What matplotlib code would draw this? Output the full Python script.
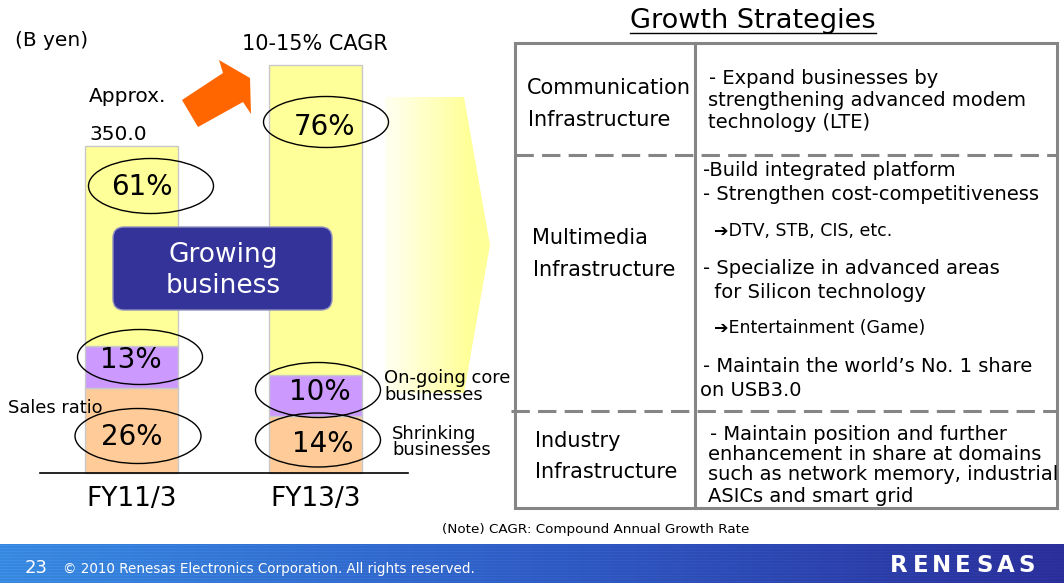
import numpy as np
import matplotlib
matplotlib.use('Agg')
import matplotlib.pyplot as plt
from matplotlib.patches import Ellipse, Polygon, Rectangle, FancyBboxPatch
from matplotlib.colors import LinearSegmentedColormap
from matplotlib import font_manager

plt.rcParams['font.family'] = ['DejaVu Sans']

# sales (B yen) and sales ratio (%) per segment
years = ['FY11/3', 'FY13/3']
totals = [350.0, 437.0]
shrinking = [26, 14]
ongoing = [13, 10]
growing = [61, 76]

seg_names = ['Shrinking\nbusinesses', 'On-going core\nbusinesses', 'Growing\nbusiness']
seg_colors = ['#FFCC99', '#CC99FF', '#FFFF99']

strategy_rows = ['Communication\nInfrastructure', 'Multimedia\nInfrastructure', 'Industry\nInfrastructure']

W, H = 1064, 583
fig = plt.figure(figsize=(W / 100., H / 100.), dpi=100)
fig.patch.set_facecolor('white')

# ---- stacked bars
bx = fig.add_axes([40. / W, (H - 473.) / H, 368. / W, 408. / H], zorder=1)
bx.patch.set_visible(False)
xpos = np.arange(len(years))
bottom = np.zeros(len(years))
for vals, col in zip([shrinking, ongoing, growing], seg_colors):
    h = np.array(vals) * np.array(totals) / 100.
    bx.bar(xpos, h, 0.504, bottom=bottom, color=col, edgecolor='#c8c8c8',
           linewidth=1, clip_on=False)
    bottom += h
bx.set_xlim(-0.496, 1.499)
bx.set_ylim(0, max(totals))
for s in ['top', 'left', 'right']:
    bx.spines[s].set_visible(False)
bx.spines['bottom'].set_linewidth(1.2)
bx.set_yticks([])
bx.set_xticks(xpos, years)
bx.tick_params(axis='x', length=0, pad=9, labelsize=19)

# ---- overlay in pixel coordinates
ax = fig.add_axes([0, 0, 1, 1], zorder=2)
ax.axis('off')


def txt(x, y, s, size, **kw):
    kw.setdefault('ha', 'left')
    kw.setdefault('va', 'center')
    ax.text(x, y, s, fontsize=size, **kw)


# gradient chevron behind the FY13/3 bar
cols = np.clip((np.arange(385, 490) - 385) / 82., 0, 1)
ycmap = LinearSegmentedColormap.from_list('y', ['#FFFFF2', '#FFFF99'])
im = ax.imshow(cols[None, :], extent=[385, 490, 393, 97], cmap=ycmap,
               aspect='auto', zorder=0.5, interpolation='bilinear')
chev = Polygon([(385, 97), (464, 97), (490, 245), (464, 393), (385, 393)],
               closed=True, fc='none', ec='none')
ax.add_patch(chev)
im.set_clip_path(chev)

# orange growth arrow
ax.add_patch(Polygon([(182, 100), (223, 73), (219, 60), (250, 78), (251, 114),
                      (243, 102), (198, 127)], closed=True, fc='#FF6600', ec='none'))

# ratio ellipses and labels
ell = [(151, 186, 125, 55), (326, 122, 125, 51),
       (140, 357, 125, 55), (318, 390, 125, 55),
       (138, 436, 126, 55), (318, 440, 125, 54)]
for cx, cy, ew, eh in ell:
    ax.add_patch(Ellipse((cx, cy), ew, eh, fill=False, ec='black', lw=1, zorder=3))
pct_pos = [(142, 187), (324, 127), (131, 360), (320, 392), (132, 437), (323, 444)]
pct_vals = [growing[0], growing[1], ongoing[0], ongoing[1], shrinking[0], shrinking[1]]
for (px, py), v in zip(pct_pos, pct_vals):
    txt(px, py, '%d%%' % v, 20, ha='center', zorder=4)

# growing business box
ax.add_patch(FancyBboxPatch((113, 227), 219, 83, boxstyle='round,pad=0,rounding_size=11',
                            fc='#333399', ec='#8f8fc0', lw=1, zorder=3))
for yy, line in zip([255, 286], seg_names[2].split('\n')):
    txt(223, yy, line, 19, ha='center', color='white', zorder=4)

txt(15, 40, '(B yen)', 14.5)
txt(242, 44, '10-15% CAGR', 15)
txt(89, 97, 'Approx.', 14.5)
txt(89, 134, '%.1f' % totals[0], 14.5)
txt(8, 408, 'Sales ratio', 12.9, zorder=4)
txt(384, 378, seg_names[1].split('\n')[0], 12.9)
txt(384, 395, seg_names[1].split('\n')[1], 12.9)
txt(392, 434, seg_names[0].split('\n')[0], 12.9)
txt(392, 450, seg_names[0].split('\n')[1], 12.9)

# ---- growth strategies table
txt(753, 21, 'Growth Strategies', 19.5, ha='center')
ax.plot([630, 876], [33, 33], color='black', lw=1)
gray = '#858585'
ax.add_patch(Rectangle((515, 43), 542, 465, fill=False, ec=gray, lw=2.2))
ax.plot([695, 695], [43, 508], color=gray, lw=2.2)
ax.plot([515, 1057], [155, 155], color=gray, lw=2.2, ls=(0, (6, 2.7)))
ax.plot([511, 1057], [411, 411], color=gray, lw=2.2, ls=(0, (6, 2.7)))

r1, r2, r3 = [r.split('\n') for r in strategy_rows]
txt(527, 88, r1[0], 15)
txt(528, 120, r1[1], 15)
txt(532, 238, r2[0], 15)
txt(533, 270, r2[1], 15)
txt(535, 441, r3[0], 15)
txt(535, 472, r3[1], 15)

txt(709, 79, '- Expand businesses by', 14)
txt(708, 101, 'strengthening advanced modem', 14)
txt(708, 122, 'technology (LTE)', 14)
txt(703, 170, '-Build integrated platform', 14)
txt(703, 195, '- Strengthen cost-competitiveness', 14)
txt(714, 231, '\u2794DTV, STB, CIS, etc.', 12.5)
txt(703, 268, '- Specialize in advanced areas', 14)
txt(708, 293, ' for Silicon technology', 14)
txt(714, 328, '\u2794Entertainment (Game)', 12.5)
txt(703, 366, '- Maintain the world\u2019s No. 1 share', 14)
txt(700, 391, 'on USB3.0', 14)
txt(710, 434, '- Maintain position and further', 14)
txt(708, 454, 'enhancement in share at domains', 14)
txt(708, 475, 'such as network memory, industrial', 14)
txt(708, 496, 'ASICs and smart grid', 14)

txt(442, 529, '(Note) CAGR: Compound Annual Growth Rate', 9.7)

# ---- footer band
fx = np.linspace(0, 1, 400)
stops = np.array([[0x38, 0x88, 0xDD], [0x2F, 0x5C, 0xC2], [0x2A, 0x2E, 0x98]]) / 255.
band = np.empty((39, 400, 3))
for c in range(3):
    row = np.interp(fx, [0, 0.5, 1], stops[:, c])
    band[:, :, c] = row[None, :]
band[1::3] = np.clip(band[1::3] * 1.07, 0, 1)
ax.imshow(band, extent=[0, W, H, 544], aspect='auto', zorder=1, interpolation='bilinear')

names = {f.name for f in font_manager.fontManager.ttflist}
narrow = 'Liberation Sans Narrow' if 'Liberation Sans Narrow' in names else 'DejaVu Sans'
txt(25, 568, '23', 13, color='white', family=narrow, zorder=5)
txt(63, 569, '\u00a9 2010 Renesas Electronics Corporation. All rights reserved.', 9.75,
    color='white', family=narrow, zorder=5)
for i, ch in enumerate('RENESAS'):
    txt(899 + i * 21.3, 565, ch, 16.5, ha='center', color='white', fontweight='bold', zorder=5)

ax.set_xlim(0, W)
ax.set_ylim(H, 0)

fig.savefig('out.png', dpi=100)
